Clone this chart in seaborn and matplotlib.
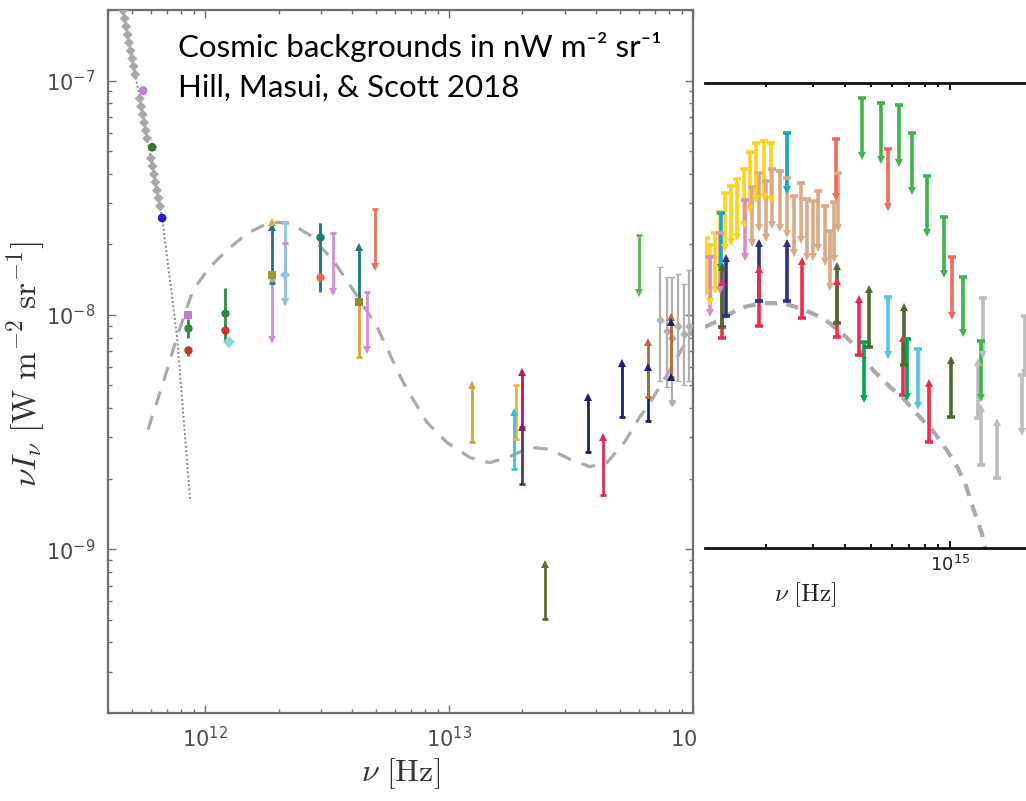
import matplotlib
matplotlib.use("Agg")
import matplotlib.pyplot as plt
import seaborn as sns
from matplotlib.patches import Rectangle
from matplotlib.ticker import LogLocator, NullFormatter, FixedLocator, LogFormatterSciNotation

sns.set_theme(style="white")
plt.rcParams["font.family"] = ["DejaVu Sans"]
plt.rcParams["mathtext.fontset"] = "cm"

# ---------------- LEFT PANEL DATA (Hz, W m^-2 sr^-1) ----------------
x_ticks_left = [1e12, 1e13, 1e14]
y_ticks_left = [1e-9, 1e-8, 1e-7]
x_ticks_right = [1e15]

cmb_nu = [4.61e11, 4.68e11, 4.75e11, 4.81e11, 4.88e11, 4.95e11, 5.03e11, 5.10e11,
          5.17e11, 5.40e11, 5.47e11, 5.55e11, 5.63e11, 5.71e11, 5.79e11, 6.00e11,
          6.09e11, 6.17e11, 6.26e11, 6.35e11, 6.44e11, 6.54e11]
cmb_I = [1.99e-7, 1.84e-7, 1.70e-7, 1.57e-7, 1.45e-7, 1.34e-7, 1.24e-7, 1.15e-7,
         1.06e-7, 8.38e-8, 7.75e-8, 7.16e-8, 6.62e-8, 6.12e-8, 5.66e-8, 4.66e-8,
         4.31e-8, 3.98e-8, 3.68e-8, 3.40e-8, 3.15e-8, 2.91e-8]
cmb_col_nu = [5.57e11, 6.07e11, 6.67e11]
cmb_col_I = [9.06e-8, 5.19e-8, 2.59e-8]
cmb_col_c = ["#C77DCB", "#2E7D32", "#2222CC"]

cmb_model_nu = [4.57e11, 5.40e11, 6.67e11, 7.68e11, 8.68e11]
cmb_model_I = [2.08e-7, 8.38e-8, 2.59e-8, 8.05e-9, 1.63e-9]

bg_model_nu = [5.84e11, 6.79e11, 7.67e11, 8.93e11, 1.047e12, 1.23e12, 1.49e12, 1.85e12,
               2.23e12, 2.69e12, 3.35e12, 4.04e12, 5.07e12, 6.12e12, 6.73e12, 8.13e12,
               9.82e12, 1.22e13, 1.47e13, 1.78e13, 2.15e13, 2.59e13, 3.13e13, 3.78e13,
               4.44e13, 5.26e13, 5.95e13, 6.79e13, 8.05e13, 1.0e14]
bg_model_I = [3.24e-9, 5.29e-9, 8.05e-9, 1.28e-8, 1.60e-8, 1.89e-8, 2.23e-8, 2.49e-8,
              2.46e-8, 2.19e-8, 1.71e-8, 1.28e-8, 8.89e-9, 5.83e-9, 4.80e-9, 3.47e-9,
              2.85e-9, 2.46e-9, 2.34e-9, 2.49e-9, 2.72e-9, 2.67e-9, 2.42e-9, 2.25e-9,
              2.34e-9, 2.88e-9, 3.57e-9, 4.35e-9, 5.83e-9, 8.63e-9]

# measured points with error bars: nu, value, low, high, colour, marker
pt_nu = [8.52e11, 8.52e11, 8.52e11, 1.21e12, 1.21e12, 1.25e12, 2.96e12, 2.96e12]
pt_I = [1.00e-8, 8.81e-9, 7.10e-9, 1.02e-8, 8.63e-9, 7.68e-9, 1.45e-8, 2.15e-8]
pt_lo = [9.7e-9, 8.0e-9, 6.7e-9, 7.83e-9, 8.2e-9, 7.5e-9, 1.30e-8, 1.25e-8]
pt_hi = [1.03e-8, 9.6e-9, 7.4e-9, 1.30e-8, 9.0e-9, 7.9e-9, 2.46e-8, 2.46e-8]
pt_col = ["#C27BC9", "#2E8B3E", "#C0392B", "#2E8B3E", "#C0392B", "#8FD3E0", "#E07050", "#1E7B74"]
pt_mk = ["s", "o", "o", "o", "o", "D", "o", "o"]

# lone markers
mk_nu = [1.88e12, 1.88e12, 2.13e12, 4.28e12, 8.12e13, 8.12e13]
mk_I = [2.49e-8, 1.48e-8, 1.48e-8, 1.13e-8, 9.3e-9, 5.45e-9]
mk_col = ["#E8A33D", "#9A9A30", "#92C5DE", "#8B8B2A", "#1A1F7A", "#1A1F7A"]
mk_mk = ["^", "s", "D", "s", "^", "^"]

# grey cluster near 1e14
grey_nu = [7.3e13, 7.8e13, 8.2e13, 8.7e13, 9.2e13, 9.6e13]
grey_I = [9.5e-9, 8.5e-9, 8.0e-9, 9.0e-9, 8.3e-9, 9.0e-9]
grey_lo = [5.2e-9, 4.9e-9, 4.2e-9, 5.2e-9, 5.0e-9, 5.2e-9]
grey_hi = [1.60e-8, 1.45e-8, 1.45e-8, 1.50e-8, 1.35e-8, 1.55e-8]

# limits / bars on the left panel: (colour, kind, nu, low, high)
L_teal = ("#1E7B74", "up", [1.88e12, 4.28e12], [1.37e-8, 1.13e-8], [2.37e-8, 1.95e-8])
L_violet = ("#D58BD8", "down", [1.88e12, 2.13e12, 3.35e12, 4.61e12],
            [7.83e-9, 1.14e-8, 1.25e-8, 7.10e-9], [1.41e-8, 2.02e-8, 2.23e-8, 1.25e-8])
L_ltblue = ("#92C5DE", "down", [2.13e12], [1.14e-8], [2.49e-8])
L_gold1 = ("#D9A441", "bar", [4.28e12], [6.62e-9], [1.13e-8])
L_salmon = ("#E8735A", "down", [4.97e12], [1.60e-8], [2.82e-8])
L_gold2 = ("#D4A23A", "up", [1.24e13], [2.88e-9], [5.04e-9])
L_orange = ("#F2B33D", "bar", [1.88e13], [2.94e-9], [5.04e-9])
L_cyan = ("#35C5E0", "up", [1.85e13], [2.19e-9], [3.86e-9])
L_crimson = ("#C2185B", "up", [1.99e13], [3.31e-9], [5.72e-9])
L_purple = ("#6B2A6B", "up", [1.99e13], [1.89e-9], [3.31e-9])
L_olive = ("#5E6E2E", "up", [2.47e13], [5.04e-10], [8.63e-10])
L_navy = ("#1A1F7A", "up", [3.71e13, 5.12e13, 6.54e13], [2.59e-9, 3.65e-9, 3.51e-9],
          [4.48e-9, 6.25e-9, 6.01e-9])
L_red = ("#DC2D4A", "up", [4.28e13], [1.71e-9], [3.00e-9])
L_brown = ("#B86A30", "up", [6.54e13, 8.12e13], [4.48e-9, 5.45e-9], [7.68e-9, 9.8e-9])
L_green = ("#55B85A", "down", [6.01e13], [1.24e-8], [2.19e-8])
left_limits = [L_teal, L_violet, L_ltblue, L_gold1, L_salmon, L_gold2, L_orange, L_cyan,
               L_crimson, L_purple, L_olive, L_navy, L_red, L_brown, L_green]

# ---------------- RIGHT PANEL DATA ----------------
cob_model_nu = [1.17e14, 1.33e14, 1.60e14, 1.93e14, 2.32e14, 2.79e14, 3.32e14, 3.88e14,
                4.47e14, 5.09e14, 5.97e14, 6.62e14, 7.49e14, 8.69e14, 9.83e14, 1.07e15,
                1.15e15, 1.23e15, 1.32e15, 1.38e15]
cob_model_I = [8.93e-9, 9.57e-9, 1.08e-8, 1.13e-8, 1.13e-8, 1.06e-8, 9.66e-9, 8.41e-9,
               7.18e-9, 5.83e-9, 4.88e-9, 4.42e-9, 3.77e-9, 3.15e-9, 2.59e-9, 2.21e-9,
               1.85e-9, 1.46e-9, 1.16e-9, 9.33e-10]

R_yellow = ("#FFD21F", "down",
            [1.18e14, 1.22e14, 1.28e14, 1.33e14, 1.39e14, 1.47e14, 1.55e14, 1.64e14, 1.74e14,
             1.83e14, 1.96e14, 2.09e14],
            [1.25e-8, 1.14e-8, 1.29e-8, 1.60e-8, 1.95e-8, 2.07e-8, 2.18e-8, 2.45e-8, 2.87e-8,
             3.17e-8, 3.24e-8, 3.14e-8],
            [2.16e-8, 2.01e-8, 2.26e-8, 2.79e-8, 3.36e-8, 3.60e-8, 3.86e-8, 4.27e-8, 5.05e-8,
             5.52e-8, 5.63e-8, 5.52e-8])
R_tan = ("#D9AA85", "down",
         [1.77e14, 1.88e14, 1.99e14, 2.10e14, 2.26e14, 2.40e14, 2.55e14, 2.71e14, 2.86e14,
          3.01e14, 3.16e14, 3.35e14, 3.50e14, 3.62e14, 3.74e14],
         [2.05e-8, 2.38e-8, 2.16e-8, 2.45e-8, 2.38e-8, 2.24e-8, 1.86e-8, 2.11e-8, 1.79e-8,
          1.79e-8, 1.95e-8, 1.70e-8, 1.33e-8, 1.75e-8, 2.38e-8],
         [3.57e-8, 4.10e-8, 3.79e-8, 4.27e-8, 4.18e-8, 3.90e-8, 3.27e-8, 3.71e-8, 3.17e-8,
          3.11e-8, 3.43e-8, 2.96e-8, 2.31e-8, 3.08e-8, 4.10e-8])
R_pink = ("#D98CC4", "down", [1.22e14, 1.33e14, 1.66e14], [1.03e-8, 1.29e-8, 1.79e-8],
          [1.79e-8, 2.26e-8, 3.14e-8])
R_cyan = ("#13A8C9", "down", [1.35e14, 2.40e14], [1.60e-8, 3.47e-8], [2.76e-8, 6.09e-8])
R_navy = ("#2E3082", "up", [1.41e14, 1.88e14, 2.40e14], [9.95e-9, 1.15e-8, 1.15e-8],
          [1.77e-8, 2.05e-8, 2.05e-8])
R_crimson = ("#EE2A4E", "up", [1.36e14, 1.88e14, 2.74e14, 3.71e14, 4.51e14, 6.65e14, 8.35e14],
             [8.00e-9, 9.02e-9, 9.75e-9, 8.09e-9, 6.76e-9, 4.55e-9, 2.86e-9],
             [1.39e-8, 1.58e-8, 1.72e-8, 1.41e-8, 1.18e-8, 8.00e-9, 5.13e-9])
R_olive = ("#4B6B2F", "up", [1.36e14, 3.71e14, 4.92e14, 6.70e14, 1.01e15],
           [8.93e-9, 9.29e-9, 7.32e-9, 6.12e-9, 3.66e-9],
           [1.62e-8, 1.63e-8, 1.30e-8, 1.09e-8, 6.44e-9])
R_green = ("#3DB54A", "down",
           [4.63e14, 5.47e14, 6.40e14, 7.17e14, 8.18e14, 9.48e14, 1.12e15, 1.31e15],
           [4.85e-8, 4.67e-8, 4.53e-8, 3.43e-8, 2.26e-8, 1.51e-8, 8.41e-9, 4.42e-9],
           [8.62e-8, 8.20e-8, 8.04e-8, 6.09e-8, 3.98e-8, 2.65e-8, 1.47e-8, 7.77e-9])
R_salmon = ("#F26A5A", "down", [3.68e14, 5.81e14, 1.02e15], [3.24e-8, 2.93e-8, 1.00e-8],
            [5.74e-8, 5.20e-8, 1.79e-8])
R_dkgreen = ("#00A651", "down", [4.70e14, 6.84e14], [4.38e-9, 4.46e-9], [7.69e-9, 7.92e-9])
R_ltblue = ("#4CC6EA", "down", [5.81e14, 7.56e14], [6.76e-9, 4.08e-9], [1.20e-8, 7.18e-9])
R_grey_dn = ("#BDBDBD", "down", [1.34e15, 1.87e15, 1.92e15], [6.76e-9, 3.15e-9, 5.66e-9],
             [1.19e-8, 5.55e-9, 9.95e-9])
R_grey_up = ("#BDBDBD", "up", [1.28e15, 1.31e15, 1.51e15], [3.62e-9, 2.28e-9, 2.00e-9],
             [6.31e-9, 4.00e-9, 3.48e-9])
right_limits = [R_grey_dn, R_grey_up, R_yellow, R_pink, R_tan, R_cyan, R_navy, R_crimson,
                R_olive, R_green, R_salmon, R_dkgreen, R_ltblue]


def draw_limits(ax, spec, lw, ms, capw):
    color, kind, xs, lo, hi = spec
    ax.vlines(xs, lo, hi, colors=color, lw=lw, zorder=3)
    if kind == "up":
        ax.plot(xs, hi, ls="none", marker="^", color=color, ms=ms, mew=0, zorder=4)
        ax.plot(xs, lo, ls="none", marker="_", color=color, ms=capw, mew=lw, zorder=4)
    elif kind == "down":
        ax.plot(xs, lo, ls="none", marker="v", color=color, ms=ms, mew=0, zorder=4)
        ax.plot(xs, hi, ls="none", marker="_", color=color, ms=capw, mew=lw, zorder=4)
    else:
        ax.plot(xs, lo, ls="none", marker="_", color=color, ms=capw, mew=lw, zorder=4)
        ax.plot(xs, hi, ls="none", marker="_", color=color, ms=capw, mew=lw, zorder=4)


W, H = 1026, 801
fig = plt.figure(figsize=(W / 100, H / 100), dpi=100)
fig.patch.set_facecolor("white")

# ---------------- LEFT AXES ----------------
ax = fig.add_axes([108 / W, 88 / H, 585 / W, 703 / H])
ax.set_facecolor("white")
ax.set_xscale("log")
ax.set_yscale("log")

sns.lineplot(x=bg_model_nu, y=bg_model_I, ax=ax, color="#AAAAAA", lw=2.3,
             linestyle=(0, (4.5, 3.5)), sort=False, estimator=None, zorder=2)
sns.lineplot(x=cmb_model_nu, y=cmb_model_I, ax=ax, color="#8A8A8A", lw=1.4,
             linestyle=(0, (1, 1.2)), sort=False, estimator=None, zorder=2)
sns.scatterplot(x=cmb_nu, y=cmb_I, ax=ax, color="#A8A8A8", marker="D", s=26,
                edgecolor="none", zorder=3)
sns.scatterplot(x=cmb_col_nu, y=cmb_col_I, ax=ax, hue=cmb_col_c, palette=dict(zip(cmb_col_c, cmb_col_c)),
                marker="o", s=40, edgecolor="none", legend=False, zorder=4)

for i in range(len(grey_nu)):
    ax.errorbar(grey_nu[i], grey_I[i], yerr=[[grey_I[i] - grey_lo[i]], [grey_hi[i] - grey_I[i]]],
                color="#B0B0B0", marker="D", ms=3.5, lw=1.6, capsize=2.5, zorder=2.5)
ax.plot([8.2e13], [4.2e-9], ls="none", marker="v", color="#B0B0B0", ms=5, zorder=2.5)

for spec in left_limits:
    draw_limits(ax, spec, lw=2.0, ms=5.5, capw=5)

for i in range(len(pt_nu)):
    ax.errorbar(pt_nu[i], pt_I[i], yerr=[[pt_I[i] - pt_lo[i]], [pt_hi[i] - pt_I[i]]],
                color=pt_col[i], marker=pt_mk[i], ms=6, lw=2.0, capsize=3, mew=0, zorder=5)
for i in range(len(mk_nu)):
    ax.plot(mk_nu[i], mk_I[i], ls="none", marker=mk_mk[i], color=mk_col[i], ms=5.5, mew=0, zorder=6)

ax.set_xlim(4.0e11, 1.0e14)
ax.set_ylim(2.0e-10, 2.0e-7)
for s in ax.spines.values():
    s.set_visible(True)
    s.set_color("#6E6E6E")
    s.set_linewidth(1.6)
ax.xaxis.set_major_locator(FixedLocator(x_ticks_left))
ax.yaxis.set_major_locator(FixedLocator(y_ticks_left))
ax.xaxis.set_major_formatter(LogFormatterSciNotation())
ax.yaxis.set_major_formatter(LogFormatterSciNotation())
ax.xaxis.set_minor_locator(LogLocator(base=10, subs=range(2, 10), numticks=50))
ax.yaxis.set_minor_locator(LogLocator(base=10, subs=range(2, 10), numticks=50))
ax.xaxis.set_minor_formatter(NullFormatter())
ax.yaxis.set_minor_formatter(NullFormatter())
ax.tick_params(which="both", direction="in", top=True, right=True, bottom=True, left=True,
               color="#6E6E6E", width=1.0)
ax.tick_params(which="major", length=6, labelsize=15, labelcolor="#4A4A4A", pad=9)
ax.tick_params(which="minor", length=3)
ax.set_xlabel(r"$\nu\ [\mathrm{Hz}]$", fontsize=23, color="#333333", labelpad=4)
ax.set_ylabel(r"$\nu I_\nu\ [\mathrm{W\ m^{-2}\ sr^{-1}}]$", fontsize=24, color="#333333")
ax.yaxis.set_label_coords((47 - 108) / 585, (713 - 364) / 703)

# white cover where the second image is pasted
fig.add_artist(Rectangle((697 / W, 0), 1 - 697 / W, 1, transform=fig.transFigure,
                         facecolor="white", edgecolor="none", zorder=1))

# ---------------- RIGHT AXES ----------------
ax2 = fig.add_axes([705 / W, 253 / H, 321 / W, 465 / H], zorder=2)
ax2.set_facecolor("none")
ax2.set_xscale("log")
ax2.set_yscale("log")
sns.lineplot(x=cob_model_nu, y=cob_model_I, ax=ax2, color="#AAAAAA", lw=3.0,
             linestyle=(0, (3, 2.2)), sort=False, estimator=None, zorder=2)
for spec in right_limits:
    draw_limits(ax2, spec, lw=2.6, ms=6, capw=6)
ax2.set_xlim(1.17e14, 1.945e15)
ax2.set_ylim(1.0e-9, 1.0e-7)
ax2.spines["left"].set_visible(False)
ax2.spines["right"].set_visible(False)
for k in ("top", "bottom"):
    ax2.spines[k].set_visible(True)
    ax2.spines[k].set_color("#111111")
    ax2.spines[k].set_linewidth(2.0)
ax2.xaxis.set_major_locator(FixedLocator(x_ticks_right))
ax2.xaxis.set_major_formatter(LogFormatterSciNotation())
ax2.xaxis.set_minor_locator(LogLocator(base=10, subs=range(2, 10), numticks=50))
ax2.xaxis.set_minor_formatter(NullFormatter())
ax2.yaxis.set_major_locator(FixedLocator([]))
ax2.yaxis.set_minor_locator(FixedLocator([]))
ax2.tick_params(axis="x", which="both", direction="in", top=True, bottom=True,
                color="#111111", width=1.4)
ax2.tick_params(axis="x", which="major", length=5, labelsize=13, labelcolor="#222222", pad=5)
ax2.tick_params(axis="x", which="minor", length=3)
ax2.tick_params(axis="y", which="both", left=False, right=False, labelleft=False)
ax2.text(0.311, -0.101, r"$\nu\ [\mathrm{Hz}]$", transform=ax2.transAxes, fontsize=18,
         ha="center", va="center", color="#222222")

# ---------------- TITLE TEXT ----------------
fig.text(178 / W, 1 - 57 / H, "Cosmic backgrounds in nW m\u207b\u00b2 sr\u207b\u00b9",
         fontsize=22.5, family=["Lato", "DejaVu Sans"], color="black", va="baseline", zorder=5)
fig.text(178 / W, 1 - 97 / H, "Hill, Masui, & Scott 2018",
         fontsize=22.5, family=["Lato", "DejaVu Sans"], color="black", va="baseline", zorder=5)

fig.savefig("out.png", dpi=100)
